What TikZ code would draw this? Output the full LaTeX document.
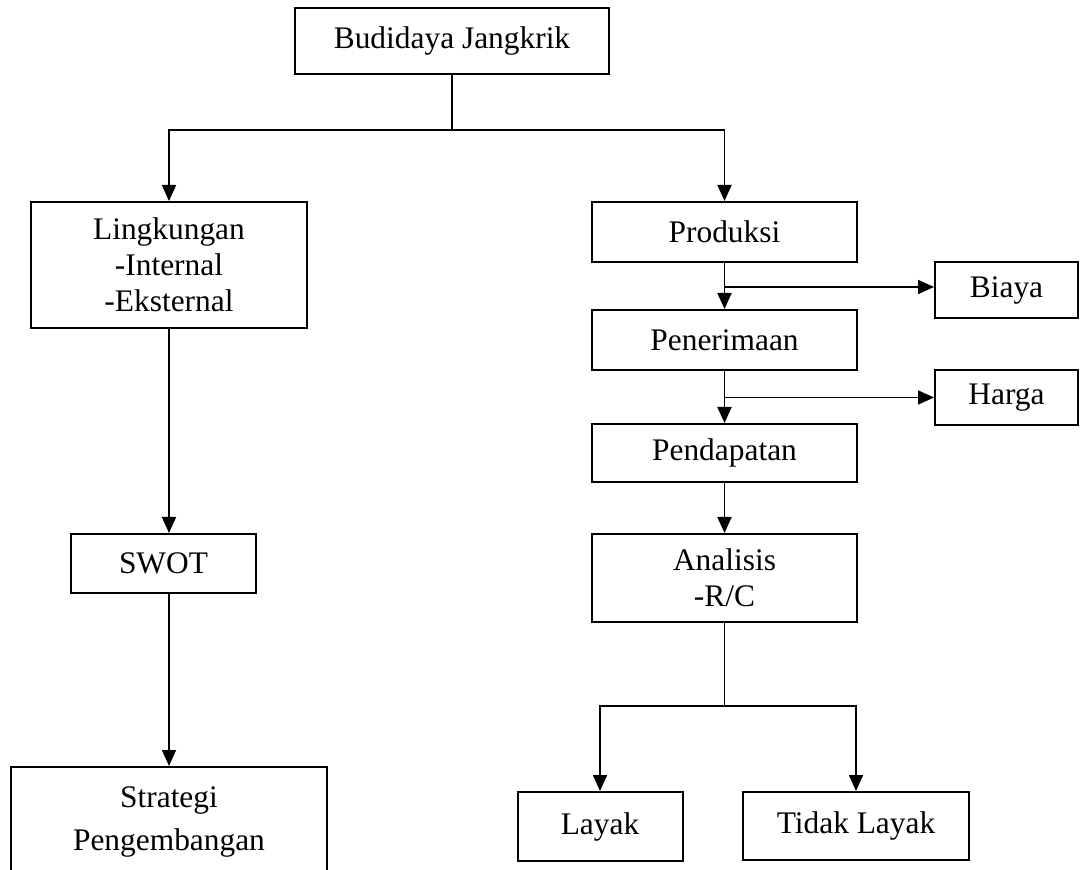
\documentclass[tikz,border=0pt]{standalone}
\usepackage{fontspec}
\setmainfont{Liberation Serif}
\usetikzlibrary{positioning, arrows, arrows.meta}

\begin{document}
\begin{tikzpicture}[x=0.5pt, y=-0.5pt,
  box/.style={draw, line width=1pt, align=center, inner sep=0pt, font=\fontsize{15.7}{18}\selectfont},
  arr/.style={-{Triangle[length=8pt, width=7pt]}},
  line/.style={line width=0.9pt}]
\useasboundingbox (0,0) rectangle (1080,870);
% top
\node[box, minimum width=157pt, minimum height=33pt] (bud) at (452,41) {Budidaya Jangkrik};
% left column
\node[box, minimum width=138pt, minimum height=63pt] (ling) at (169,265) {Lingkungan\\-Internal\\-Eksternal};
\node[box, minimum width=92.5pt, minimum height=29.5pt] (swot) at (163.5,563.5) {SWOT};
\node[box, minimum width=158pt, minimum height=55pt] (strat) at (169,822) {Strategi\\[3.5pt]Pengembangan};
% right column
\node[box, minimum width=132.5pt, minimum height=30pt] (prod) at (724.5,232) {Produksi};
\node[box, minimum width=132.5pt, minimum height=30pt] (pener) at (724.5,340) {Penerimaan};
\node[box, minimum width=132.5pt, minimum height=29pt] (penda) at (724.5,453) {Pendapatan};
\node[box, minimum width=132.5pt, minimum height=44pt] (anal) at (724.5,578) {Analisis\\-R/C};
\node[box, minimum width=71.5pt, minimum height=28pt] (biaya) at (1006.5,290) {Biaya};
\node[box, minimum width=71.5pt, minimum height=27.5pt] (harga) at (1006.5,397.5) {Harga};
\node[box, minimum width=82.5pt, minimum height=34.5pt] (layak) at (600,826.5) {Layak};
\node[box, minimum width=113pt, minimum height=34pt] (tidak) at (856,826) {Tidak Layak};
% split points
\coordinate (top split) at (452,130);
\coordinate (rc split) at (724.5,706);
% connectors
\draw[line] (bud.south) -- (top split);
\draw[line, arr] (top split) -| (ling.north);
\draw[line, arr] (top split) -| (prod.north);
\draw[line, arr] (ling.south) -- (ling.south |- swot.north);
\draw[line, arr] (ling.south |- swot.south) -- (strat.north);
\draw[line, arr] (prod.south) -- (pener.north);
\draw[line, arr] (prod.south |- 0,287) -- (biaya.west |- 0,287);
\draw[line, arr] (pener.south) -- (penda.north);
\draw[line, arr] (pener.south |- harga.west) -- (harga.west);
\draw[line, arr] (penda.south) -- (anal.north);
\draw[line] (anal.south) -- (rc split);
\draw[line, arr] (rc split) -| (layak.north);
\draw[line, arr] (rc split) -| (tidak.north);
\end{tikzpicture}
\end{document}
